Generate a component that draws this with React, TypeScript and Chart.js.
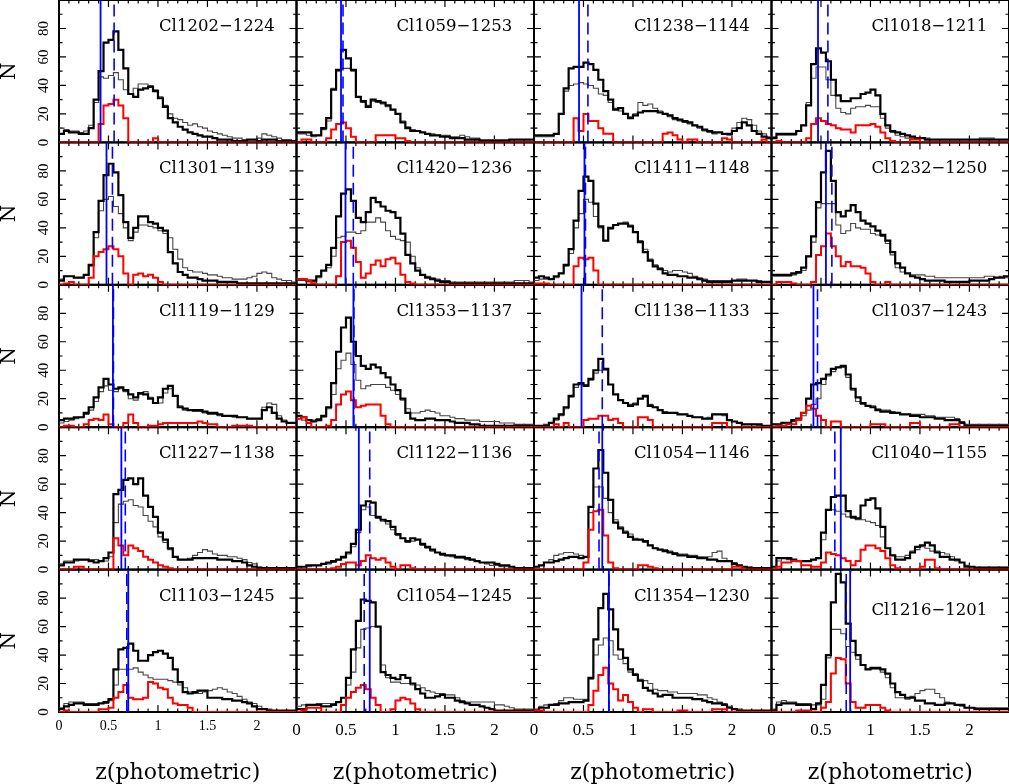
import React, { useEffect, useRef } from 'react';
import { Chart, registerables } from 'chart.js';

Chart.register(...registerables);

// ---------------- data ----------------
// left edges of the 0.05-wide redshift bins
const binStarts = [
  0, 0.05, 0.1, 0.15, 0.2, 0.25, 0.3, 0.35, 0.4, 0.45,
  0.5, 0.55, 0.6, 0.65, 0.7, 0.75, 0.8, 0.85, 0.9, 0.95,
  1, 1.05, 1.1, 1.15, 1.2, 1.25, 1.3, 1.35, 1.4, 1.45,
  1.5, 1.55, 1.6, 1.65, 1.7, 1.75, 1.8, 1.85, 1.9, 1.95,
  2, 2.05, 2.1, 2.15, 2.2, 2.25, 2.3, 2.35,
];
const zEnd = 2.4;

const clusterNames = [
  'Cl1202−1224', 'Cl1059−1253', 'Cl1238−1144', 'Cl1018−1211',
  'Cl1301−1139', 'Cl1420−1236', 'Cl1411−1148', 'Cl1232−1250',
  'Cl1119−1129', 'Cl1353−1137', 'Cl1138−1133', 'Cl1037−1243',
  'Cl1227−1138', 'Cl1122−1136', 'Cl1054−1146', 'Cl1040−1155',
  'Cl1103−1245', 'Cl1054−1245', 'Cl1354−1230', 'Cl1216−1201',
];

const solidLineZ = [
  0.42, 0.45, 0.455, 0.47,
  0.48, 0.495, 0.51, 0.55,
  0.545, 0.575, 0.48, 0.424,
  0.63, 0.63, 0.69, 0.7,
  0.7, 0.74, 0.757, 0.795,
];
const dashedLineZ = [
  0.557, 0.47, 0.545, 0.57,
  0.54, 0.574, 0.52, 0.61,
  0.55, 0.58, 0.69, 0.465,
  0.67, 0.74, 0.657, 0.64,
  0.685, 0.684, 0.757, 0.755,
];

// Cl1202-1224
const cl1202Bold = [6,8,7,7,6,6,10,30,50,70, 72,78,65,52,34,32,37,38,39,36, 31,25,17,14,11,9,7,6,5,4, 4,3,2,2,2,1,1,1,2,2, 1,2,2,2,1,1,1,1];
const cl1202Thin = [10,9,8,8,7,8,12,28,46,45, 47,49,44,37,34,38,41,41,40,37, 32,26,20,17,16,14,12,13,11,10, 8,7,6,5,4,3,3,2,2,2, 3,6,5,4,3,2,2,1];
const cl1202Red = [0,0,0,0,0,0,0,0,13,26, 27,30,26,17,0,0,0,0,0,3, 0,0,0,0,0,0,0,0,0,0, 0,0,0,0,0,0,0,0,0,0, 0,0,0,0,0,0,0,0];
// Cl1059-1253
const cl1059Bold = [7,7,7,5,5,10,17,37,51,65, 59,51,32,29,25,30,29,28,26,23, 20,14,10,8,8,7,6,5,5,4, 4,3,3,3,2,2,2,1,1,1, 1,1,1,2,2,2,2,2];
const cl1059Thin = [6,6,5,4,5,9,15,38,50,52, 52,50,32,28,26,29,28,27,25,23, 20,15,11,9,8,7,6,6,5,5, 5,4,4,5,4,3,3,2,2,2, 2,2,2,2,2,2,2,2];
const cl1059Red = [0,2,2,0,0,0,3,9,13,14, 10,4,0,0,0,0,5,5,5,5, 3,3,1,0,0,0,0,0,0,0, 0,0,0,0,0,0,0,0,0,0, 0,0,0,0,0,0,0,0];
// Cl1238-1144
const cl1238Bold = [5,5,5,5,6,20,38,52,53,53, 56,55,51,44,36,30,23,24,20,17, 19,21,22,22,22,21,20,19,17,16, 15,14,12,11,9,8,7,7,6,6, 8,10,14,12,8,6,4,3];
const cl1238Thin = [4,4,4,4,6,20,36,40,41,42, 41,40,38,34,33,28,24,22,20,18, 20,28,26,27,24,22,20,18,16,15, 14,13,12,10,8,7,6,7,6,5, 10,14,17,16,12,8,6,4];
const cl1238Red = [0,0,0,0,0,0,0,0,17,8, 20,15,15,10,6,6,0,0,0,0, 0,0,0,0,0,0,6,7,5,2, 0,2,2,0,0,0,0,0,3,2, 0,0,0,0,0,0,2,0];
// Cl1018-1211
const cl1018Bold = [3,6,6,6,6,8,12,26,55,66, 63,57,44,33,29,29,31,31,34,35, 37,33,20,12,8,7,6,5,4,3, 3,2,2,2,2,2,2,2,2,2, 2,2,2,2,2,2,2,2];
const cl1018Thin = [4,5,5,5,5,8,12,28,45,53, 53,44,33,24,21,20,24,25,25,26, 25,25,17,10,7,5,4,3,3,3, 3,3,2,2,2,2,2,2,2,2, 2,2,3,3,3,2,2,2];
const cl1018Red = [0,1,0,0,0,0,0,3,13,17, 15,13,12,10,9,9,7,12,12,12, 13,11,7,3,1,0,0,0,2,2, 0,0,0,0,0,0,0,0,0,0, 0,0,0,0,0,0,0,0];
// Cl1301-1139
const cl1301Bold = [3,6,6,5,5,7,14,37,59,77, 85,79,63,44,33,40,48,48,44,43, 40,38,23,15,9,7,5,5,4,3, 3,3,2,2,2,2,1,1,1,1, 1,1,1,1,1,1,1,1];
const cl1301Thin = [4,6,6,5,5,7,13,33,52,60, 62,55,50,40,31,37,42,42,41,40, 38,36,33,25,18,12,10,9,9,8, 7,7,6,5,5,4,4,4,5,6, 8,9,8,5,4,3,3,2];
const cl1301Red = [0,1,2,0,0,0,5,20,23,25, 27,25,20,8,0,7,8,6,7,5, 2,0,0,0,0,0,0,0,0,0, 0,0,0,0,0,0,0,0,0,0, 0,0,0,0,0,0,0,0];
// Cl1420-1236
const cl1420Bold = [4,4,3,3,6,10,14,26,48,64, 67,59,47,44,51,61,58,55,52,51, 47,36,21,15,10,7,5,4,3,2, 2,1,1,1,1,1,1,1,1,1, 1,1,1,1,1,1,1,1];
const cl1420Thin = [3,3,2,2,5,10,12,20,33,34, 37,37,36,38,44,44,47,44,38,34, 32,31,30,20,12,7,6,5,4,3, 3,2,2,2,2,2,2,2,2,2, 2,2,2,2,3,3,3,2];
const cl1420Red = [4,4,3,1,0,0,0,0,6,30, 31,26,16,5,8,14,17,13,18,19, 15,7,2,1,0,0,0,0,0,0, 0,0,0,0,0,0,0,0,0,0, 0,0,0,0,0,0,0,0];
// Cl1411-1148
const cl1411Bold = [5,6,5,4,6,8,14,25,45,66, 76,73,57,41,31,40,42,43,43,41, 37,30,23,17,13,11,8,7,7,6, 6,5,5,4,3,2,2,2,2,2, 3,3,3,3,3,2,2,2];
const cl1411Thin = [3,4,4,4,5,8,13,22,40,50, 60,58,48,40,31,39,42,43,44,42, 37,31,25,18,14,12,10,9,10,10, 9,8,6,5,4,3,3,3,3,3, 3,4,4,3,3,3,2,2];
const cl1411Red = [1,1,1,0,0,0,0,0,13,19, 18,19,10,0,0,0,0,0,0,0, 0,0,0,0,0,0,0,0,0,0, 0,0,0,0,0,0,0,0,0,0, 0,0,0,0,0,0,0,0];
// Cl1232-1250
const cl1232Bold = [7,7,7,7,8,9,12,20,34,58, 79,94,73,51,48,52,56,51,45,43, 41,38,35,31,23,15,12,8,6,5, 4,3,3,3,3,2,2,2,2,2, 3,3,3,3,4,5,5,6];
const cl1232Thin = [6,6,6,6,7,8,10,20,30,54, 57,57,57,42,36,38,43,40,39,39, 36,35,34,29,21,12,9,8,7,7, 7,6,6,5,5,5,5,5,5,5, 5,5,5,6,6,5,6,5];
const cl1232Red = [0,2,2,2,1,0,0,0,2,21, 27,36,27,20,13,16,13,13,12,8, 2,0,0,2,0,0,0,0,0,0, 0,0,0,0,0,0,0,0,0,0, 0,0,0,0,0,0,0,0];
// Cl1119-1129
const cl1119Bold = [5,6,6,7,7,10,14,21,28,34, 30,27,28,26,23,21,24,23,20,17, 21,27,29,22,14,13,12,12,12,11, 10,10,9,8,8,8,7,7,6,6, 6,12,14,10,6,4,3,3];
const cl1119Thin = [3,4,5,6,7,9,12,18,25,29, 26,25,27,25,20,19,23,25,21,17, 17,24,27,22,15,12,12,11,11,10, 9,9,8,8,8,7,7,7,6,6, 6,14,17,16,8,5,3,3];
const cl1119Red = [0,1,1,0,0,2,5,6,5,9, 2,0,0,3,9,3,0,0,1,1, 2,3,3,3,3,3,3,3,4,3, 2,2,0,0,0,1,1,1,1,0, 0,0,0,0,0,0,0,0];
// Cl1353-1137
const cl1353Bold = [8,7,5,4,5,8,14,31,53,70, 77,60,50,43,41,44,42,38,35,30, 26,20,10,6,5,5,6,6,5,5, 5,4,3,3,3,2,2,1,1,1, 1,1,1,1,1,1,1,1];
const cl1353Thin = [6,5,5,5,6,7,13,23,41,47, 52,44,33,27,29,30,30,30,28,26, 23,19,13,10,10,11,12,11,10,8, 8,7,6,6,5,5,5,4,4,4, 4,3,3,3,2,2,2,2];
const cl1353Red = [6,7,3,0,0,0,1,5,16,23, 25,19,14,15,16,16,16,8,2,0, 0,0,0,0,0,0,0,0,0,0, 0,0,0,0,0,0,0,0,0,0, 0,0,0,0,0,0,0,0];
// Cl1138-1133
const cl1138Bold = [1,1,1,3,6,9,14,22,30,31, 29,34,40,48,41,30,23,19,17,15, 16,20,22,15,14,12,10,10,10,9, 9,8,7,7,6,6,9,9,9,5, 4,3,2,2,2,2,1,1];
const cl1138Thin = [1,1,2,3,5,8,13,21,28,30, 30,33,38,40,40,30,23,19,17,16, 17,20,21,16,14,12,11,10,10,9, 9,8,7,7,6,7,9,9,8,5, 4,3,2,2,2,1,1,1];
const cl1138Red = [0,0,0,0,2,0,3,0,0,0, 5,6,6,8,8,5,6,3,0,0, 0,7,7,5,0,0,0,0,0,0, 0,0,0,0,0,0,3,3,3,0, 0,0,0,0,0,0,0,0];
// Cl1037-1243
const cl1037Bold = [2,2,3,3,5,6,10,20,30,31, 34,37,41,42,43,37,27,21,17,15, 14,12,11,11,10,10,9,9,8,8, 7,7,7,6,6,5,5,5,3,1, 1,1,1,1,1,1,1,1];
const cl1037Thin = [2,2,3,3,4,5,8,12,16,20, 30,36,39,42,42,35,26,18,16,15, 15,13,12,12,11,10,9,9,9,9, 9,8,8,7,7,7,7,6,4,2, 2,2,2,2,2,2,2,2];
const cl1037Red = [0,1,1,2,2,5,10,15,13,8, 5,0,4,4,0,0,0,0,0,0, 2,2,2,0,0,0,0,0,3,3, 0,0,0,0,0,0,2,2,0,0, 0,0,0,0,0,0,0,0];
// Cl1227-1138
const cl1227Bold = [3,5,5,7,7,7,6,5,6,8, 12,53,56,63,64,60,64,52,44,37, 26,21,15,9,7,7,7,8,8,8, 8,8,7,7,7,6,6,5,3,2, 1,1,1,1,1,1,1,1];
const cl1227Thin = [4,6,6,6,7,7,7,7,6,6, 9,33,46,48,49,45,44,38,34,30, 23,19,14,9,7,7,8,10,12,14, 13,11,10,10,9,9,8,7,5,4, 2,1,1,1,1,1,1,1];
const cl1227Red = [0,0,0,2,2,0,0,0,0,0, 0,22,17,10,17,15,13,9,7,5, 3,2,1,0,0,0,0,0,0,0, 0,0,0,0,0,0,0,0,0,0, 0,0,0,0,0,0,0,0];
// Cl1122-1136
const cl1122Bold = [2,2,3,3,3,4,5,6,7,9, 12,18,28,45,48,47,37,35,34,30, 25,22,20,22,21,18,16,14,12,11, 10,10,9,9,8,7,6,5,5,5, 4,3,3,2,1,1,1,1];
const cl1122Thin = [1,2,2,3,3,4,4,5,7,8, 11,16,26,42,44,38,36,34,32,28, 24,22,19,20,21,17,15,13,12,10, 10,9,8,8,7,7,6,5,4,3, 3,2,2,2,1,1,1,1];
const cl1122Red = [0,0,0,0,0,0,0,1,2,4, 5,5,3,6,10,8,7,8,5,2, 0,3,3,1,0,0,0,0,0,0, 0,0,0,0,0,0,0,0,0,0, 0,0,0,0,0,0,0,0];
// Cl1054-1146
const cl1054aBold = [2,3,5,5,6,7,8,9,9,8, 9,44,71,84,68,49,33,29,26,23, 21,21,20,17,15,14,13,12,11,10, 10,9,9,8,8,7,7,6,6,6, 4,3,2,1,1,1,1,1];
const cl1054aThin = [2,3,5,7,10,11,12,12,11,10, 9,40,58,58,50,40,35,30,27,25, 22,21,19,17,15,14,14,13,12,11, 11,10,10,9,9,9,12,13,8,6, 5,3,2,2,1,1,1,1];
const cl1054aRed = [0,0,0,0,0,0,0,0,0,0, 5,28,41,42,24,5,1,0,0,0, 0,3,3,2,1,0,0,0,0,0, 0,0,0,0,0,0,0,0,0,0, 2,2,0,0,0,0,0,0];
// Cl1040-1155
const cl1040Bold = [2,8,8,8,7,6,6,6,7,8, 26,42,51,52,52,41,37,36,45,49, 50,43,30,15,10,7,7,8,12,16, 17,19,17,12,9,9,7,7,5,2, 2,1,1,1,1,1,1,1];
const cl1040Thin = [2,6,8,7,6,6,6,6,7,8, 21,42,42,41,39,37,36,35,35,34, 33,31,23,15,10,9,9,10,13,14, 16,15,13,13,12,11,9,6,5,3, 2,2,2,2,2,2,2,2];
const cl1040Red = [0,2,5,5,6,6,3,3,2,2, 5,12,11,10,8,6,3,6,14,17, 17,15,13,8,3,1,0,0,0,0, 2,7,7,1,0,0,0,0,0,0, 0,0,0,0,0,0,0,0];
// Cl1103-1245
const cl1103Bold = [2,4,5,6,6,5,5,5,6,7, 9,30,44,45,48,43,36,36,40,42, 43,41,38,30,21,14,13,14,15,15, 10,10,10,9,9,8,8,7,6,4, 2,2,1,1,1,1,1,1];
const cl1103Thin = [3,6,7,7,7,6,6,6,6,6, 8,19,30,30,30,31,28,26,24,23, 23,23,22,21,19,17,14,13,13,14, 15,16,17,16,14,13,11,9,7,6, 4,2,2,1,1,1,1,1];
const cl1103Red = [0,1,0,0,0,0,0,0,2,2, 3,10,14,19,10,9,9,10,21,20, 17,16,10,6,5,5,3,0,0,0, 0,0,0,0,0,0,0,0,0,0, 0,0,0,0,0,0,0,0];
// Cl1054-1245
const cl1054bBold = [2,2,5,5,5,4,4,5,7,10, 24,44,64,79,78,77,60,28,26,24, 23,26,24,20,16,13,10,10,11,12, 10,10,8,7,6,5,5,4,3,2, 1,1,1,1,1,1,1,1];
const cl1054bThin = [4,5,5,5,6,6,6,6,7,10, 19,28,45,58,59,60,60,33,24,21, 21,20,20,19,19,17,15,14,13,13, 12,12,10,8,7,7,7,7,7,7, 5,5,4,3,2,2,2,2];
const cl1054bRed = [0,1,3,3,3,0,0,0,0,5, 10,14,17,19,16,10,5,0,0,2, 8,10,9,6,2,0,0,0,0,0, 0,0,0,0,0,0,0,0,0,0, 0,0,0,0,0,0,0,0];
// Cl1354-1230
const cl1354Bold = [1,3,3,5,5,6,6,7,7,7, 8,24,51,73,83,72,58,44,38,30, 26,22,17,15,13,11,12,12,10,10, 10,10,9,9,8,7,6,6,5,3, 2,1,1,1,1,1,1,1];
const cl1354Thin = [2,4,5,5,6,8,10,10,9,9, 9,23,40,47,52,50,40,37,34,28, 27,23,22,20,16,15,15,14,14,13, 13,13,13,12,12,10,9,7,6,4, 2,2,1,1,1,1,1,1];
const cl1354Red = [1,1,0,0,0,0,0,0,0,0, 0,5,15,26,31,20,16,8,12,7, 3,0,2,2,0,0,0,0,0,1, 1,0,0,0,0,0,2,2,2,0, 0,0,0,0,0,0,0,0];
// Cl1216-1201
const cl1216Bold = [1,5,6,6,6,5,5,5,2,6, 19,40,77,97,91,62,50,40,33,30, 31,31,30,27,20,14,12,10,10,8, 8,6,6,5,5,6,6,5,5,3, 3,2,2,2,2,2,2,2];
const cl1216Thin = [2,7,8,7,7,6,6,6,5,5, 9,38,58,58,55,46,42,37,33,30, 30,30,28,24,17,10,10,9,11,13, 15,16,16,13,10,7,6,5,4,3, 3,3,3,3,3,3,3,3];
const cl1216Red = [0,0,0,0,0,1,1,1,0,0, 3,7,27,38,37,20,7,3,3,5, 5,5,3,1,0,0,0,0,0,0, 0,0,0,0,0,0,0,0,0,0, 0,0,0,0,0,0,0,0];

const boldSeries = [
  cl1202Bold, cl1059Bold, cl1238Bold, cl1018Bold,
  cl1301Bold, cl1420Bold, cl1411Bold, cl1232Bold,
  cl1119Bold, cl1353Bold, cl1138Bold, cl1037Bold,
  cl1227Bold, cl1122Bold, cl1054aBold, cl1040Bold,
  cl1103Bold, cl1054bBold, cl1354Bold, cl1216Bold,
];
const thinSeries = [
  cl1202Thin, cl1059Thin, cl1238Thin, cl1018Thin,
  cl1301Thin, cl1420Thin, cl1411Thin, cl1232Thin,
  cl1119Thin, cl1353Thin, cl1138Thin, cl1037Thin,
  cl1227Thin, cl1122Thin, cl1054aThin, cl1040Thin,
  cl1103Thin, cl1054bThin, cl1354Thin, cl1216Thin,
];
const redSeries = [
  cl1202Red, cl1059Red, cl1238Red, cl1018Red,
  cl1301Red, cl1420Red, cl1411Red, cl1232Red,
  cl1119Red, cl1353Red, cl1138Red, cl1037Red,
  cl1227Red, cl1122Red, cl1054aRed, cl1040Red,
  cl1103Red, cl1054bRed, cl1354Red, cl1216Red,
];

const xMajorTicks = [0.5, 1, 1.5, 2];
const xMinorTicks = [0.1, 0.2, 0.3, 0.4, 0.6, 0.7, 0.8, 0.9, 1.1, 1.2, 1.3, 1.4, 1.6, 1.7, 1.8, 1.9, 2.1, 2.2, 2.3];
const yMajorTicks = [20, 40, 60, 80];
const yMinorTicks = [10, 30, 50, 70, 90];

// ---------------- layout / style ----------------
const NCOLS = 4;
const NROWS = 5;
const W = 1009;
const H = 784;
const LEFT_AXIS_W = 59;
const BOTTOM_AXIS_H = 72;
const TITLE_DX = 100;
const TITLE_DY = 31;
const TITLE_DY_LOW = 45; // last panel has its label lower

function histPoints(counts: number[]) {
  const pts = counts.map((v, i) => ({ x: binStarts[i], y: v }));
  pts.push({ x: zEnd, y: counts[counts.length - 1] });
  return pts;
}

const panelFrame = {
  id: 'panelFrame',
  beforeDatasetsDraw(chart: any) {
    const ctx = chart.ctx;
    ctx.save();
    ctx.strokeStyle = '#000';
    for (let r = 0; r < NROWS; r++) {
      for (let c = 0; c < NCOLS; c++) {
        const xs = chart.scales['x' + c];
        const ys = chart.scales['y' + r];
        const L = xs.left, R = xs.right, T = ys.top, B = ys.bottom;
        ctx.lineWidth = 1.2;
        ctx.beginPath();
        const xt = (v: number, len: number) => {
          const px = xs.getPixelForValue(v);
          ctx.moveTo(px, B); ctx.lineTo(px, B - len);
          ctx.moveTo(px, T); ctx.lineTo(px, T + len);
        };
        const yt = (v: number, len: number) => {
          const py = ys.getPixelForValue(v);
          ctx.moveTo(L, py); ctx.lineTo(L + len, py);
          ctx.moveTo(R, py); ctx.lineTo(R - len, py);
        };
        xMajorTicks.forEach((v) => xt(v, 7));
        xMinorTicks.forEach((v) => xt(v, 3.5));
        yMajorTicks.forEach((v) => yt(v, 7));
        yMinorTicks.forEach((v) => yt(v, 3.5));
        ctx.stroke();
        ctx.lineWidth = 2;
        ctx.strokeRect(L, T, R - L, B - T);
      }
    }
    ctx.restore();
  },
  afterDatasetsDraw(chart: any) {
    const ctx = chart.ctx;
    ctx.save();
    ctx.fillStyle = '#000';
    ctx.font = '16.5px "DejaVu Serif", serif';
    ctx.textAlign = 'left';
    ctx.textBaseline = 'alphabetic';
    clusterNames.forEach((name, p) => {
      const r = Math.floor(p / NCOLS);
      const c = p % NCOLS;
      const xs = chart.scales['x' + c];
      const ys = chart.scales['y' + r];
      const dy = p === clusterNames.length - 1 ? TITLE_DY_LOW : TITLE_DY;
      ctx.fillText(name, xs.left + TITLE_DX, ys.top + dy);
    });
    ctx.restore();
  },
};

function buildConfig(): any {
  const datasets: any[] = [];
  clusterNames.forEach((_, p) => {
    const r = Math.floor(p / NCOLS);
    const c = p % NCOLS;
    const common = {
      xAxisID: 'x' + c,
      yAxisID: 'y' + r,
      pointRadius: 0,
      fill: false,
      tension: 0,
    };
    datasets.push({ ...common, data: histPoints(thinSeries[p]), stepped: true, borderColor: '#444444', borderWidth: 1.1, order: 4 });
    datasets.push({ ...common, data: histPoints(boldSeries[p]), stepped: true, borderColor: '#000000', borderWidth: 2.2, order: 3 });
    datasets.push({ ...common, data: histPoints(redSeries[p]), stepped: true, borderColor: '#ff0000', borderWidth: 2, order: 2 });
    datasets.push({ ...common, data: [{ x: solidLineZ[p], y: 0 }, { x: solidLineZ[p], y: 100 }], borderColor: '#0000ff', borderWidth: 1.8, order: 1 });
    datasets.push({ ...common, data: [{ x: dashedLineZ[p], y: 0 }, { x: dashedLineZ[p], y: 100 }], borderColor: '#0000ff', borderWidth: 1.6, borderDash: [12, 6], order: 1 });
  });

  const zeroPad = (s: any) => {
    s.paddingTop = 0; s.paddingBottom = 0; s.paddingLeft = 0; s.paddingRight = 0;
  };

  const scales: any = {};
  for (let c = 0; c < NCOLS; c++) {
    scales['x' + c] = {
      type: 'linear',
      axis: 'x',
      position: 'bottom',
      stack: 'cols',
      stackWeight: 1,
      weight: c,
      min: 0,
      max: zEnd,
      grid: { display: false, drawTicks: false },
      border: { display: false },
      ticks: {
        stepSize: 0.5,
        includeBounds: false,
        autoSkip: false,
        maxRotation: 0,
        minRotation: 0,
        padding: c === 0 ? 6 : 8,
        color: '#000',
        font: { family: '"Liberation Serif", serif', size: c === 0 ? 14 : 17 },
        callback: (v: number) => String(v),
      },
      title: {
        display: true,
        text: 'z(photometric)',
        color: '#000',
        font: { family: '"DejaVu Serif", serif', size: 22 },
        padding: { top: 0, bottom: -2 },
      },
      afterFit: (s: any) => { s.height = BOTTOM_AXIS_H; zeroPad(s); },
    };
  }
  for (let r = 0; r < NROWS; r++) {
    scales['y' + r] = {
      type: 'linear',
      axis: 'y',
      position: 'left',
      stack: 'rows',
      stackWeight: 1,
      weight: NROWS - 1 - r,
      min: 0,
      max: 100,
      grid: { display: false, drawTicks: false },
      border: { display: false },
      ticks: {
        stepSize: 20,
        autoSkip: false,
        minRotation: 90,
        maxRotation: 90,
        crossAlign: 'center',
        padding: 7,
        color: '#000',
        font: { family: '"Liberation Serif", serif', size: 15 },
        callback: (v: number) => (v === 100 ? '' : String(v)),
      },
      title: {
        display: true,
        text: 'N',
        color: '#000',
        font: { family: '"DejaVu Serif", serif', size: 20 },
        padding: { top: -2, bottom: 0 },
      },
      afterFit: (s: any) => { s.width = LEFT_AXIS_W; zeroPad(s); },
    };
  }

  return {
    type: 'line',
    data: { datasets },
    options: {
      responsive: false,
      maintainAspectRatio: false,
      animation: false,
      devicePixelRatio: 1,
      events: [],
      layout: { padding: 0 },
      plugins: { legend: { display: false }, tooltip: { enabled: false }, title: { display: false } },
      scales,
    },
    plugins: [panelFrame],
  };
}

export default function App() {
  const ref = useRef<HTMLCanvasElement>(null);
  useEffect(() => {
    if (!ref.current) return;
    Chart.defaults.color = '#000';
    const chart = new Chart(ref.current, buildConfig());
    return () => chart.destroy();
  }, []);
  return (
    <div style={{ position: 'absolute', left: 0, top: 0, width: W, height: H, background: '#fff', overflow: 'hidden' }}>
      <canvas ref={ref} width={W} height={H} style={{ display: 'block' }} />
    </div>
  );
}
